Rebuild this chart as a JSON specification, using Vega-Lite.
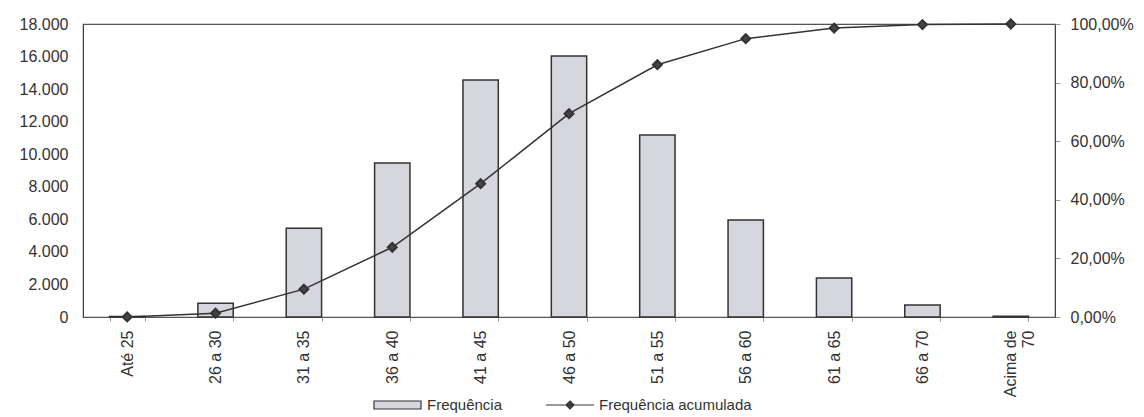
{
  "$schema": "https://vega.github.io/schema/vega-lite/v6.json",
  "autosize": {"type": "none"},
  "width": 972,
  "height": 293,
  "padding": {"left": 83, "top": 24, "right": 89, "bottom": 100},
  "background": "white",
  "config": {
    "font": "Liberation Sans",
    "view": {"stroke": "#555", "strokeWidth": 1.2},
    "axis": {"labelFont": "Liberation Sans", "labelFontSize": 16, "labelColor": "#333", "grid": false, "domainColor": "#444", "tickColor": "#999"}
  },
  "data": {
    "values": [
      {"faixa": "Até 25", "freq": 30, "acum": 0.0004},
      {"faixa": "26 a 30", "freq": 850, "acum": 0.013},
      {"faixa": "31 a 35", "freq": 5450, "acum": 0.095},
      {"faixa": "36 a 40", "freq": 9460, "acum": 0.238},
      {"faixa": "41 a 45", "freq": 14560, "acum": 0.455},
      {"faixa": "46 a 50", "freq": 16030, "acum": 0.694},
      {"faixa": "51 a 55", "freq": 11180, "acum": 0.861},
      {"faixa": "56 a 60", "freq": 5960, "acum": 0.950},
      {"faixa": "61 a 65", "freq": 2400, "acum": 0.986},
      {"faixa": "66 a 70", "freq": 740, "acum": 0.998},
      {"faixa": "Acima de 70", "freq": 50, "acum": 1.0}
    ]
  },
  "encoding": {
    "x": {
      "field": "faixa", "type": "nominal", "sort": null, "title": null,
      "scale": {"paddingInner": 0.6, "paddingOuter": 0.3},
      "axis": {
        "labelAngle": -90, "labelPadding": 9, "tickBand": "extent", "ticks": true, "tickSize": 4, "domain": false,
        "labelExpr": "datum.value == 'Acima de 70' ? ['Acima de', '70'] : datum.value"
      }
    }
  },
  "layer": [
    {
      "mark": {"type": "bar", "fill": "#d6d6de", "stroke": "#333", "strokeWidth": 1.5},
      "encoding": {
        "y": {
          "field": "freq", "type": "quantitative", "title": null,
          "scale": {"domain": [0, 18000], "nice": false},
          "axis": {"values": [0, 2000, 4000, 6000, 8000, 10000, 12000, 14000, 16000, 18000], "ticks": false, "labelPadding": 15, "domain": true,
            "labelExpr": "replace(format(datum.value, ','), ',', '.')"}
        },
        "fill": {
          "datum": "Frequência",
          "scale": {"range": ["#d6d6de"]},
          "legend": {
            "title": null, "orient": "none", "legendX": 269, "legendY": 360, "padding": 12,
            "fillColor": "white",
            "symbolType": "M-2.94,-0.5H2.94V0.5H-2.94Z", "symbolSize": 256, "symbolOffset": 24.5, "labelOffset": 20.5,
            "symbolStrokeColor": "#333", "symbolStrokeWidth": 1.2,
            "labelFontSize": 15, "labelColor": "#333", "labelFont": "Liberation Sans"
          }
        }
      }
    },
    {
      "mark": {"type": "line", "stroke": "#333", "strokeWidth": 1.5, "point": {"shape": "diamond", "size": 80, "fill": "#444", "stroke": "#444", "filled": true}},
      "encoding": {
        "y": {
          "field": "acum", "type": "quantitative", "title": null,
          "scale": {"domain": [0, 1], "nice": false},
          "axis": {"orient": "right", "values": [0, 0.2, 0.4, 0.6, 0.8, 1], "tickSize": 5, "labelPadding": 10, "domain": true,
            "labelExpr": "replace(format(datum.value, '.2%'), '.', ',')"}
        },
        "stroke": {
          "datum": "Frequência acumulada",
          "scale": {"range": ["#333"]},
          "legend": {
            "title": null, "orient": "none", "legendX": 434, "legendY": 360, "padding": 12,
            "fillColor": "white",
            "symbolType": "M-3,0H3M0,-0.5L0.5,0L0,0.5L-0.5,0Z", "symbolSize": 256, "symbolOffset": 32, "labelOffset": 20,
            "symbolFillColor": "#444", "symbolStrokeColor": "#333", "symbolStrokeWidth": 1.2,
            "labelFontSize": 15, "labelColor": "#333", "labelFont": "Liberation Sans"
          }
        }
      }
    }
  ],
  "resolve": {"scale": {"y": "independent"}}
}
